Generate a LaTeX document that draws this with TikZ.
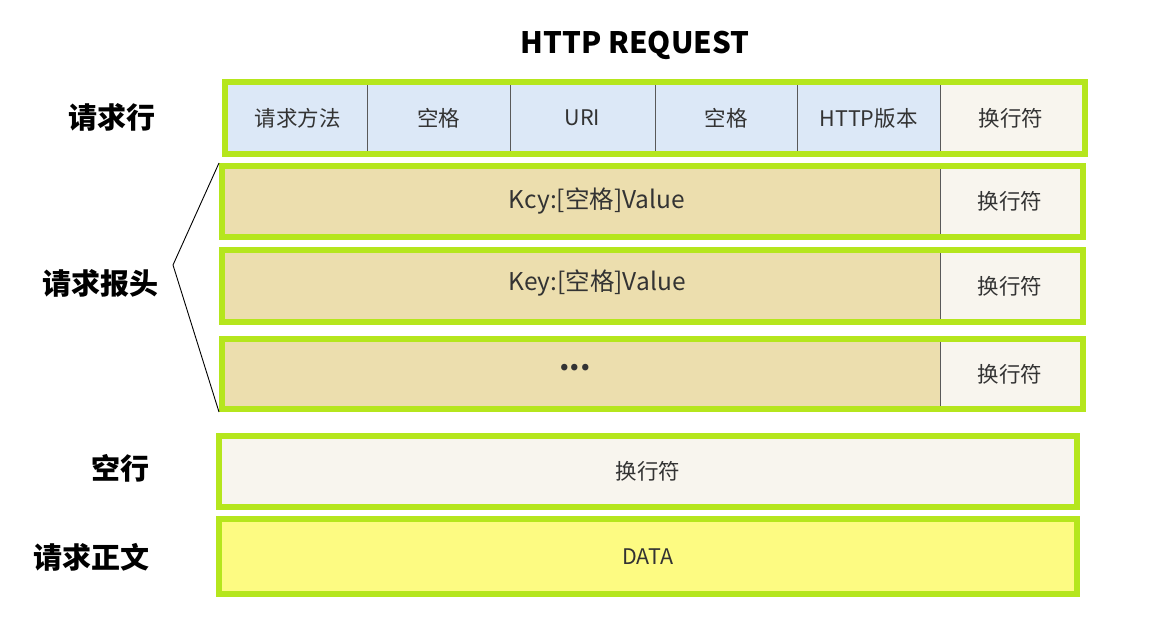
\documentclass[tikz,border=0pt]{standalone}
\usepackage{fontspec}
\setmainfont{Noto Sans CJK SC}
\usepackage{tikz}

\definecolor{framegreen}{RGB}{181,230,29}
\definecolor{reqblue}{RGB}{220,232,247}
\definecolor{crlf}{RGB}{248,245,238}
\definecolor{headtan}{RGB}{236,222,174}
\definecolor{bodyyellow}{RGB}{253,251,130}
\definecolor{celltxt}{RGB}{51,51,51}

\begin{document}
\begin{tikzpicture}[x=1pt,y=-1pt,
    cell/.style={inner sep=0pt,text=celltxt,font=\fontsize{21.5}{26}\selectfont},
    celltext/.style={inner sep=0pt,text=celltxt,font=\fontsize{24.5}{28}\selectfont},
    rowframe/.style={draw=framegreen,line width=6pt,inner sep=0pt},
    sep/.style={draw=black!65,line width=0.8pt},
    side/.style={font=\fontsize{29}{33}\selectfont\bfseries},
    brace/.style={draw=black,line width=0.9pt}]
    \useasboundingbox (0,0) rectangle (1152,623);

    \node[font=\fontsize{29.5}{34}\selectfont\bfseries] (ttl) at (635,45) {HTTP REQUEST};

    % request line
    \foreach \i/\txt/\a/\b in {1/请求方法/228/367,2/空格/367/510,3/URI/510/655,4/空格/655/797,5/HTTP版本/797/940}
        \node[cell,fill=reqblue,minimum width={(\b-\a)*1pt},minimum height=66pt] (m\i) at ({(\a+\b)/2},118) {\txt};
    \node[cell,fill=crlf,minimum width=142pt,minimum height=66pt] (m6) at (1011,118) {换行符};
    \foreach \i in {1,...,5}
        \draw[sep] (m\i.north east) -- (m\i.south east);
    \node[rowframe,minimum width=860pt,minimum height=72pt] (line) at (655,118) {};

    % header lines
    \foreach \i/\t/\b in {1/163/240,2/247/325,3/336/412}{
        \node[cell,fill=headtan,minimum width=715pt,minimum height={(\b-\t-12)*1pt}] (k\i) at (582.5,{(\t+\b)/2}) {};
        \node[cell,fill=crlf,minimum width=140pt,minimum height={(\b-\t-12)*1pt}] (n\i) at (1010,{(\t+\b)/2}) {换行符};
        \draw[sep] (k\i.north east) -- (k\i.south east);
        \node[rowframe,minimum width=861pt,minimum height={(\b-\t-6)*1pt}] (h\i) at (652.5,{(\t+\b)/2}) {};
    }
    \node[celltext] (k1t) at (597,201.5) {Kcy:[空格]Value};
    \node[celltext] (k2t) at (597,283) {Key:[空格]Value};
    \node[celltext,font=\fontsize{30}{30}\selectfont\bfseries] (k3t) at (575,368) {...};

    % blank line and body
    \node[cell,fill=crlf,minimum width=852pt,minimum height=65pt] (blank) at (648,471.5) {换行符};
    \node[rowframe,minimum width=858pt,minimum height=71pt] (blankf) at (648,471.5) {};
    \node[cell,fill=bodyyellow,minimum width=852pt,minimum height=69pt] (body) at (648,556.5) {DATA};
    \node[rowframe,minimum width=858pt,minimum height=75pt] (bodyf) at (648,556.5) {};

    % side labels
    \node[side] (l1) at (112,117) {请求行};
    \node[side] (l2) at (100,283) {请求报头};
    \node[side] (l3) at (120,468) {空行};
    \node[side] (l4) at (92,557) {请求正文};

    \coordinate (tip) at (173,265);
    \draw[brace] (h1.north west) -- (tip) -- (h3.south west);
\end{tikzpicture}
\end{document}
